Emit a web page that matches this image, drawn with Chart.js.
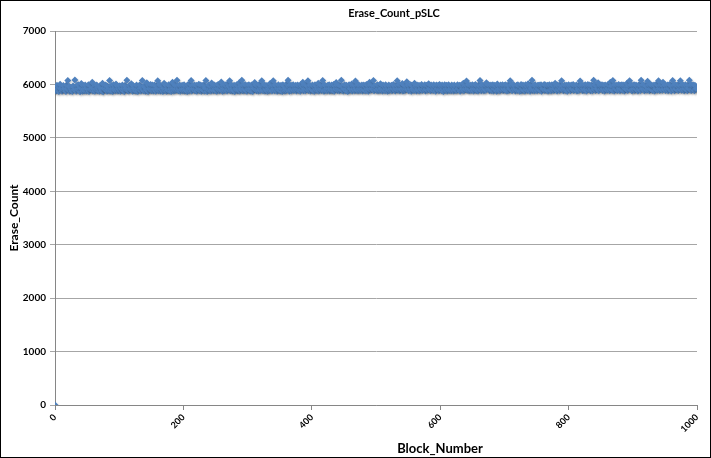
<!DOCTYPE html>
<html>
<head>
<meta charset="utf-8">
<script src="https://cdn.jsdelivr.net/npm/chart.js@4.4.0/dist/chart.umd.min.js"></script>
<style>
  html, body { margin: 0; padding: 0; background: #fff; }
  #wrap { width: 709px; height: 456px; border: 1px solid #000; position: relative; }
</style>
</head>
<body>
<div id="wrap"><canvas id="erase_chart"></canvas></div>
<script>
const CHART_TITLE = 'Erase_Count_pSLC';
const X_TITLE = 'Block_Number';
const Y_TITLE = 'Erase_Count';
const xTicks = [0, 200, 400, 600, 800, 1000];
const yTicks = [0, 1000, 2000, 3000, 4000, 5000, 6000, 7000];

// erase count per block, block number = index
const eraseCounts = [
  0,5912,5876,5984,5905,5921,5868,5947,6003,5915,5930,5872,5908,5981,5899,5924,5911,5866,5990,5917,6072,5902,5968,5874,5913,
  5936,5907,5869,5972,5948,5901,6081,5915,5873,5979,5910,5992,5898,5919,5864,5933,6016,5925,5871,5978,5914,5880,5987,5920,5875,
  5927,5909,5996,5867,5916,5982,5904,5923,6042,5877,5939,5911,5870,5978,5918,5991,5882,5935,5908,5873,5976,5944,5913,5879,6021,
  5865,5930,5917,5905,5989,5924,5872,5968,5910,5883,6075,5919,5876,5981,5914,5868,5993,5907,5925,5881,6006,5912,5975,5878,5920,
  5909,5974,5874,5927,5916,5990,5882,5923,5869,5985,5911,5930,6078,5886,5918,5877,5983,5921,5904,6012,5915,5871,5977,5926,5888,
  5919,5879,5991,5913,5866,5969,5907,5990,5922,5875,5935,6074,5910,5883,5977,5945,5873,5916,6031,5885,5868,5979,5920,5912,5997,
  5881,5924,5987,5876,5914,5988,5909,5870,5972,5918,6069,5884,5926,5993,5879,5921,5911,5975,5867,5928,6023,5886,5917,5980,5874,
  5923,5890,5996,5882,5970,5915,5869,5978,6043,5913,5877,5925,5989,5887,5920,6080,5972,5880,5918,5991,5872,5967,5911,5986,5884,
  5916,5994,5878,5922,5889,5971,5866,5994,5914,5883,6019,5917,6073,5875,5977,5908,5924,5987,5881,5919,5983,5870,5966,5912,6002,
  5885,5921,5989,5873,5915,5978,5890,5991,5879,5934,6075,5913,5867,5923,5990,5886,5918,5970,5876,6025,5911,5965,5882,5987,5917,
  5888,5982,5874,5926,5998,5914,5881,5920,5978,6045,5889,5871,5985,5922,5886,5994,5916,5969,5878,6012,5912,5967,6070,5884,5919,
  5990,5877,5924,5891,5986,5869,5970,5918,5996,5883,5921,5889,6032,5875,5968,5914,6076,5887,5983,5880,5919,6000,5890,5976,5872,
  5981,5913,5995,5885,5922,5878,5987,5917,5868,5974,5924,6038,5911,5991,5882,5920,5969,5876,5997,5915,5888,5975,6071,5919,5883,
  5967,5993,5879,5916,5981,5890,5870,5978,5921,5886,6019,5914,5965,5877,5984,6067,5918,5884,5990,5912,5969,5873,5922,5995,5888,
  5917,5882,5986,5924,5868,5992,5913,5970,5879,5921,5887,6015,5916,6079,5966,5874,5988,5911,5883,5983,5919,5996,5885,5968,5914,
  5985,5876,5922,5990,5889,5917,5971,5871,5998,5912,5966,6040,5883,5987,5918,5880,5994,5915,5969,6068,5887,5920,5984,5877,5924,
  5911,5989,5884,5966,5873,5993,5916,5972,5888,5921,6021,5879,5968,5913,5987,5886,5919,6073,5964,5870,5991,5890,5970,5917,5882,
  5983,5918,5995,5878,5925,5891,5988,5885,5920,5997,5872,5969,5914,6035,5984,5887,5923,5990,5881,5916,5971,6077,5889,5967,5876,
  5920,5994,5912,5883,5985,5919,5869,5967,5992,5888,5924,5914,6010,5877,5970,5916,5989,5884,6066,5922,5891,5986,5880,5995,5918,
  5886,5969,5915,5991,5875,5923,5987,5890,5966,5882,5998,5917,5983,5871,5921,6043,5988,5889,5925,5994,5913,6072,5883,5970,5919,
  5968,5891,5993,5880,5918,5984,5886,6012,5915,5924,5876,5989,5912,5967,5884,5996,5920,5972,5873,5917,5991,5888,5965,5914,5986,
  5883,5922,5997,5913,5970,5878,5919,5987,6070,5889,5926,5992,5881,5916,5983,5911,6019,5875,5924,5988,5887,5920,5971,6048,5915,
  5989,5884,5967,5918,5994,5872,5984,5912,5923,5886,6020,5917,5970,5879,5990,5921,5890,5985,5882,5966,5914,5997,5888,5973,5919,
  5965,5992,5877,5916,5986,5889,5969,6013,5912,5921,5880,5988,5915,5971,5886,5995,5918,5967,5873,5990,5911,5923,5984,5882,5998,
  5914,5970,5885,5989,5920,5868,5966,5993,5891,5917,5985,5879,5922,5996,5888,5972,5916,5881,5991,5913,5968,5876,5987,5919,5890,
  5971,5887,5994,5915,5922,5986,5873,5967,5990,5889,5918,6022,5883,5969,5914,5988,6062,5891,5924,5995,5880,5919,5983,5886,5966,
  5992,5912,5878,5984,5921,5997,5888,5916,5970,5875,5989,5913,6074,5965,5884,5993,5918,5971,5881,5922,5987,5890,6031,5967,5998,
  5915,5983,5882,5920,5991,5887,5968,5994,5879,5917,5986,5912,5965,5872,6010,5889,5970,5919,5883,5989,5914,5967,5996,5886,5921,
  5984,5890,5993,5917,5876,5969,5988,5885,5922,6068,5913,5990,5881,5966,5997,5916,5972,5878,5919,5985,5888,5994,5912,5964,5870,
  5967,5999,5884,5920,5987,5891,5971,5877,5992,5916,5965,5888,6013,5914,5970,5873,5989,5921,6079,5886,5918,5984,5882,5995,5913,
  5963,5880,5986,5917,5991,5889,5968,5994,5874,5971,5915,5922,5998,5885,5987,5919,5891,5983,5876,5966,5992,5890,5969,5883,5996,
  5918,5985,5887,5924,6020,5912,5970,5879,5989,5914,5967,5886,5993,5921,6071,5916,5972,5881,5925,5990,5889,5920,5986,5874,5968,
  5995,5913,5969,5882,5988,5917,5924,5998,5885,5973,5911,5966,5991,5877,5970,5919,5888,5994,6065,5915,5967,5989,5883,5922,5984,
  5890,5992,5920,5876,5971,5997,5912,5965,5987,5884,5919,5985,5880,5968,6076,5914,5993,5888,5923,5972,5917,6030,5881,5969,5988,
  5913,5966,5994,5886,5921,5984,5878,5990,5916,5970,5889,5996,5922,5987,5883,6042,5918,5972,5891,6073,5967,5875,5991,5915,5924,
  5986,5887,5969,5998,5917,5882,5983,5920,5993,5890,5966,5989,5879,5922,5985,5914,6021,5886,5970,5918,6067,5965,5992,5891,5883,
  5981,5916,5995,5888,5923,5987,5912,5968,5876,5990,5919,5984,5885,6080,5967,5913,5996,5921,5881,5986,5917,5970,5890,6059,5924,
  5989,5883,5920,5997,5914,5982,5887,5965,5991,5878,5969,5916,6010,5891,5986,6070,5922,5885,5983,5919,5994,5889,6039,5967,5915,
  5992,5886,5970,5918,5988,5881,5924,5998,5913,5985,5877,5968,6074,5917,5981,5884,5995,5920,5912,5987,5966,5888,5993,5916,6068,
  5969,5890,5990,5921,5984,5883,5918,5996,5914,5967,5880,5987,5923,6078,5911,5983,5886,5992,5919,5965,5988,5882,5981,5915,5924
];

const points = eraseCounts.map((v, i) => ({ x: i, y: v }));

// marker shadow like Excel, and the two titles Excel put off-centre
const excelLook = {
  id: 'excelLook',
  beforeDatasetsDraw(chart) {
    const c = chart.ctx;
    c.save();
    c.shadowColor = 'rgba(0,0,0,0.22)';
    c.shadowOffsetX = 1;
    c.shadowOffsetY = 1.5;
    c.shadowBlur = 2;
  },
  afterDatasetsDraw(chart) {
    chart.ctx.restore();
  },
  afterDraw(chart) {
    const c = chart.ctx;
    c.save();
    c.fillStyle = '#000';
    c.textAlign = 'center';
    c.textBaseline = 'middle';
    c.font = 'bold 11px Lato';
    c.fillText(CHART_TITLE, 393, 12);
    c.font = 'bold 13px Lato';
    c.fillText(X_TITLE, 439, 448);
    c.restore();
  }
};

const ctx = document.getElementById('erase_chart').getContext('2d');
new Chart(ctx, {
  type: 'scatter',
  data: {
    datasets: [{
      label: Y_TITLE,
      data: points,
      pointStyle: 'rectRot',
      pointRadius: 3.5,
      pointBorderWidth: 0,
      backgroundColor: '#4f81bd',
      borderColor: '#4f81bd'
    }]
  },
  options: {
    responsive: true,
    maintainAspectRatio: false,
    animation: false,
    layout: { padding: { top: 30, right: 13, left: 0, bottom: 0 } },
    plugins: {
      legend: { display: false },
      tooltip: { enabled: false }
    },
    scales: {
      x: {
        type: 'linear',
        min: xTicks[0],
        max: xTicks[xTicks.length - 1],
        afterBuildTicks: s => { s.ticks = xTicks.map(v => ({ value: v })); },
        afterFit: s => { s.height = 52; },
        grid: { drawOnChartArea: false, drawTicks: true, tickLength: 5, color: '#868686' },
        border: { color: '#868686' },
        ticks: {
          minRotation: 45, maxRotation: 45,
          color: '#000',
          padding: 2,
          callback: v => String(v),
          font: { family: 'Lato', size: 9, weight: 'bold' }
        }
      },
      y: {
        min: yTicks[0],
        max: yTicks[yTicks.length - 1],
        afterBuildTicks: s => { s.ticks = yTicks.map(v => ({ value: v })); },
        afterFit: s => { s.width = 54; },
        grid: { color: '#a6a6a6', tickLength: 5 },
        border: { color: '#868686' },
        title: {
          display: true,
          text: Y_TITLE,
          color: '#000',
          padding: { top: 6, bottom: 0 },
          font: { family: 'Lato', size: 12, weight: 'bold' }
        },
        ticks: {
          color: '#000',
          padding: 4,
          callback: v => String(v),
          font: { family: 'Lato', size: 10, weight: 'bold' }
        }
      }
    }
  },
  plugins: [excelLook]
});
</script>
</body>
</html>
